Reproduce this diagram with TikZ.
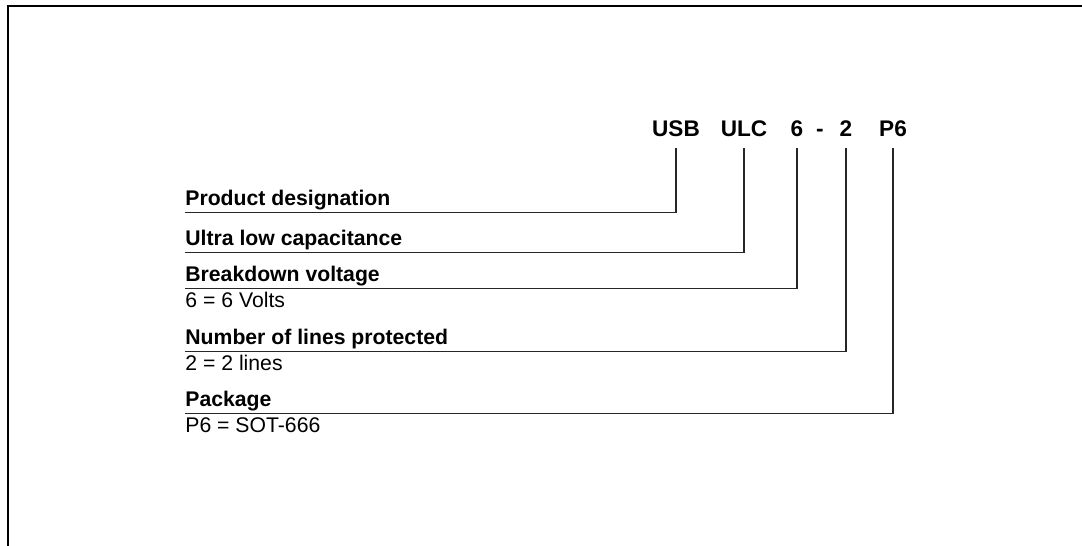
\documentclass[tikz,border=0pt]{standalone}
\usepackage{fontspec}
\setmainfont{Liberation Sans}
\begin{document}
\begin{tikzpicture}[x=0.5pt,y=-0.5pt,
    code/.style={font=\fontsize{11.3}{13}\selectfont\bfseries, inner sep=0pt, text depth=0pt, anchor=base},
    lbl/.style={font=\fontsize{10.6}{12}\selectfont\bfseries, inner xsep=0pt, inner ysep=3.5pt, text depth=0pt, anchor=base west},
    note/.style={font=\fontsize{10.6}{12}\selectfont, inner sep=0pt, anchor=base west},
    lead/.style={draw=black!85, line width=0.6pt}]
  \useasboundingbox (0,0) rectangle (1082,546);
  % frame
  \draw[line width=1.2pt] (8,546) -- (8,6) -- (1082,6);
  % part number
  \node[code] (usb) at (676,136) {USB};
  \node[code] (ulc) at (744,136) {ULC};
  \node[code] (volt) at (797,136) {6};
  \node[code] (dash) at (820,136) {-};
  \node[code] (lines) at (846,136) {2};
  \node[code] (pkg) at (893,136) {P6};
  % fields
  \node[lbl] (prod) at (185,205) {Product designation};
  \node[lbl] (ultra) at (185,245) {Ultra low capacitance};
  \node[lbl] (brk) at (185,281) {Breakdown voltage};
  \node[lbl] (num) at (185,344) {Number of lines protected};
  \node[lbl] (pack) at (185,406) {Package};
  \node[note] (brkval) at ([yshift=-9.5pt]brk.south west) {6 = 6 Volts};
  \node[note] (numval) at ([yshift=-9.5pt]num.south west) {2 = 2 lines};
  \node[note] (packval) at ([yshift=-9.5pt]pack.south west) {P6 = SOT-666};
  \begin{scope}[lead]
    \draw ([yshift=-6pt]usb.south) |- (prod.south west);
    \draw ([yshift=-6pt]ulc.south) |- (ultra.south west);
    \draw ([yshift=-6pt]volt.south) |- (brk.south west);
    \draw ([yshift=-6pt]lines.south) |- (num.south west);
    \draw ([yshift=-6pt]pkg.south) |- (pack.south west);
  \end{scope}
\end{tikzpicture}
\end{document}
